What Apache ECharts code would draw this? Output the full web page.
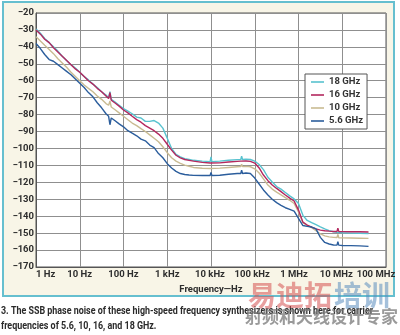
<!DOCTYPE html>
<html>
<head>
<meta charset="utf-8">
<script src="https://cdn.jsdelivr.net/npm/echarts@6/dist/echarts.min.js"></script>
<style>
  html, body { margin: 0; padding: 0; background: #ffffff; }
  #chart { width: 400px; height: 335px; }
</style>
</head>
<body>
<div id="chart"></div>
<script>
// Offset frequencies (Hz) shared by all four traces
const freqHz = [
  1, 1.26, 1.58, 2, 2.51, 3.16, 3.98, 5.01, 6.31, 7.94,
  10, 12.6, 15.8, 20, 25.1, 31.6, 39.8, 45.7, 49, 52.5,
  63.1, 79.4, 100, 126, 158, 200, 251, 316, 398, 501,
  631, 794, 1000, 1259, 1585, 1995, 2512, 3162, 3981, 6310,
  9550, 10000, 10470, 15850, 25120, 39810, 47860, 50120, 52480, 63100,
  79430, 1e5, 1.26e5, 1.58e5, 2e5, 2.51e5, 3.16e5, 3.98e5, 5.01e5, 6.31e5,
  7.94e5, 1e6, 1.26e6, 1.58e6, 2e6, 2.51e6, 3.16e6, 3.98e6, 5.01e6, 6.31e6,
  7.59e6, 7.94e6, 8.32e6, 1e7, 1.58e7, 2.51e7, 3.98e7
];

// SSB phase noise, dBc/Hz, per carrier frequency
const noise18GHz = [
  -29.5, -32, -35, -37.5, -40, -42.5, -45.5, -48, -50.5, -52.5,
  -55, -57.5, -59.5, -62, -64, -66.5, -68.5, -70, -66.5, -71,
  -72.5, -74.5, -76.5, -78, -79.5, -81.5, -82, -84, -84, -83.5,
  -85, -88, -94, -100, -103.5, -105, -106, -106.5, -107, -107.5,
  -107.8, -105, -107.8, -107.5, -107, -106.6, -106.5, -104.5, -106.5, -106.4,
  -106.5, -107.5, -109.5, -112.5, -117, -119.8, -122.5, -124, -126, -128,
  -129.8, -132.5, -139.5, -142.5, -143.8, -145, -146.3, -147.5, -148.5, -149.2,
  -149.5, -149.6, -149.6, -149.8, -150, -150.1, -150.2
];
const noise16GHz = [
  -30, -32.5, -35.5, -37.5, -40.5, -43, -45.5, -48, -50.5, -53,
  -55, -57.5, -60, -62, -64.5, -66.5, -69, -70.5, -67, -71.5,
  -73, -75, -77.3, -79, -81, -83, -84.5, -86.5, -88, -89.5,
  -91.5, -94, -97.5, -101, -104, -105.5, -106.5, -107, -107.5, -108.2,
  -108.6, -108.6, -108.6, -108.5, -108, -107.6, -107.5, -106.5, -107.5, -107.4,
  -107.6, -108.6, -111.5, -115.7, -119, -121.6, -123.6, -125.5, -127.5, -129.3,
  -131, -136.4, -143.5, -145.2, -146.5, -147.5, -148.2, -148.6, -148.8, -149,
  -149, -147, -149, -149.1, -149.2, -149.2, -149.3
];
const noise10GHz = [
  -34, -36.5, -39, -41.5, -44, -47, -49.5, -52, -55, -57.5,
  -60, -62.5, -64.5, -66.5, -69, -71, -73.5, -74.5, -72, -75.5,
  -77, -79, -81, -83, -85, -86.5, -88.3, -90, -92, -94,
  -96, -99, -102.5, -105.5, -107.5, -108.8, -109.8, -110.5, -111.2, -111.7,
  -111.8, -111.8, -111.8, -111.6, -111.2, -110.8, -110.7, -109.3, -110.7, -110.6,
  -110.8, -112, -114.5, -118, -121.6, -124, -125.8, -127.4, -129, -130.6,
  -132.5, -137.5, -143.8, -145.4, -146.8, -148.6, -150.5, -151.6, -152.2, -152.5,
  -152.6, -150.8, -152.7, -152.8, -152.9, -153, -153.1
];
const noise5p6GHz = [
  -38, -41, -44.5, -47.5, -48.5, -50.5, -52.5, -54.5, -56.5, -59,
  -61.5, -64, -67, -69.5, -73, -76, -79.5, -81, -86, -82,
  -83.5, -85.5, -87.2, -89.5, -91, -92.5, -94.5, -95.5, -98, -99.5,
  -103, -105.5, -109, -111.5, -113.5, -114.8, -115.4, -115.7, -115.9, -116,
  -116, -114.2, -116, -115.8, -115.2, -114.8, -114.8, -112.8, -114.8, -114.5,
  -114.8, -117.5, -121, -124.5, -127.5, -130, -132, -133.6, -135, -136,
  -137, -141.3, -145.5, -146, -146.4, -147.5, -152.5, -155.5, -156.4, -157,
  -157.1, -155, -157.1, -157.3, -157.4, -157.5, -157.8
];

// Axis tick labels, one per decade
const freqTickLabels = ['1 Hz', '10 Hz', '100 Hz', '1 kHz', '10 kHz', '100 kHz', '1 MHz', '10 MHz', '100 MHz'];
const seriesNames = ['18 GHz', '16 GHz', '10 GHz', '5.6 GHz'];

const captionLines = [
  '3. The SSB phase noise of these high-speed frequency synthesizers is shown here for carrier',
  'frequencies of 5.6, 10, 16, and 18 GHz.'
];

const FONT = 'Roboto, "DejaVu Sans Condensed", sans-serif';
const CJK = '"Noto Sans CJK SC", sans-serif';

const colors = {
  '18 GHz': '#58c2cf',
  '16 GHz': '#b3285e',
  '10 GHz': '#c9bb92',
  '5.6 GHz': '#2b5d9c'
};

// frequency axis runs in decades (log10 of Hz)
const pair = (vals) => freqHz.map((f, i) => [Math.log10(f), vals[i]]);

// caption is set in a condensed face: squeeze it to the frame width
const measureCtx = document.createElement('canvas').getContext('2d');
const captionFont = 'bold 10.5px ' + FONT;
measureCtx.font = captionFont;
const captionScale = Math.min(1, 372 / measureCtx.measureText(captionLines[0]).width);

// right-hand tick labels sit slightly left of their gridline
const labelShift = [0, 0, 0, 0, 2, 5, 9, 12, 20];
const richStyles = {};
labelShift.forEach((s, i) => {
  richStyles['t' + i] = {
    fontFamily: FONT, fontSize: 9.5, fontWeight: 'bold', color: '#2e2e2e',
    padding: [0, s, 0, 0]
  };
});

const chart = echarts.init(document.getElementById('chart'), null, { renderer: 'canvas' });

const mkSeries = (name, vals, z) => ({
  name: name,
  type: 'line',
  data: pair(vals),
  showSymbol: false,
  symbol: 'none',
  z: z,
  lineStyle: { color: colors[name], width: 1.4 },
  itemStyle: { color: colors[name] }
});

chart.setOption({
  animation: false,
  backgroundColor: '#ffffff',
  graphic: [
    {
      type: 'rect',
      z: -10,
      silent: true,
      shape: { x: 3, y: 2, width: 391, height: 294 },
      style: { fill: '#f8f5e7', stroke: '#66bfcf', lineWidth: 2 }
    },
    {
      type: 'text',
      z: 50,
      silent: true,
      x: 1,
      y: 304,
      scaleX: captionScale,
      style: {
        text: captionLines.join('\n'),
        font: captionFont,
        lineHeight: 15,
        fill: '#2a2a2a'
      }
    },
    {
      type: 'text',
      z: 100,
      silent: true,
      x: 248,
      y: 281,
      style: {
        text: '易迪拓',
        font: 'bold 28px ' + CJK,
        fill: 'rgba(214, 80, 80, 0.55)'
      }
    },
    {
      type: 'text',
      z: 100,
      silent: true,
      x: 334,
      y: 281,
      style: {
        text: '培训',
        font: 'bold 28px ' + CJK,
        fill: 'rgba(90, 140, 190, 0.55)'
      }
    },
    {
      type: 'text',
      z: 100,
      silent: true,
      x: 245,
      y: 308,
      style: {
        text: '射频和天线设计专家',
        font: 'bold 17px ' + CJK,
        fill: 'rgba(120, 120, 120, 0.75)'
      }
    }
  ],
  legend: {
    orient: 'vertical',
    left: 305,
    top: 74,
    data: seriesNames,
    backgroundColor: '#ffffff',
    borderColor: '#555555',
    borderWidth: 1,
    borderRadius: 0,
    padding: [3, 4, 3, 6],
    itemWidth: 13,
    itemHeight: 1.6,
    itemGap: 3,
    icon: 'rect',
    textStyle: {
      fontFamily: FONT,
      fontSize: 9.5,
      fontWeight: 'bold',
      color: '#333333',
      lineHeight: 10
    }
  },
  grid: {
    left: 36,
    right: 14,
    top: 13,
    bottom: 68,
    show: true,
    backgroundColor: '#ffffff',
    borderColor: '#555555',
    borderWidth: 1,
    containLabel: false,
    outerBoundsMode: 'none'
  },
  xAxis: {
    type: 'value',
    min: 0,
    max: 8,
    interval: 1,
    name: 'Frequency\u2014Hz',
    nameLocation: 'middle',
    nameGap: 12,
    nameTextStyle: {
      fontFamily: FONT,
      fontSize: 9.5,
      fontWeight: 'bold',
      color: '#2e2e2e'
    },
    axisLine: { show: true, lineStyle: { color: '#555555', width: 1 } },
    axisTick: { show: false },
    splitLine: { show: true, lineStyle: { color: '#8f8f8f', width: 1 } },
    axisLabel: {
      margin: 3,
      hideOverlap: false,
      showMinLabel: true,
      showMaxLabel: true,
      alignMinLabel: 'left',
      rich: richStyles,
      formatter: (v) => {
        const i = Math.round(v);
        return '{t' + i + '|' + freqTickLabels[i] + '}';
      }
    }
  },
  yAxis: {
    type: 'value',
    min: -170,
    max: -20,
    interval: 10,
    name: 'dBc/Hz',
    nameLocation: 'middle',
    nameGap: 22,
    nameTextStyle: {
      fontFamily: FONT,
      fontSize: 9.5,
      fontWeight: 'bold',
      color: '#2e2e2e'
    },
    axisLine: { show: true, lineStyle: { color: '#555555', width: 1 } },
    axisTick: { show: false },
    splitLine: { show: true, lineStyle: { color: '#8f8f8f', width: 1 } },
    axisLabel: {
      margin: 2,
      fontFamily: FONT,
      fontSize: 9.5,
      fontWeight: 'bold',
      color: '#2e2e2e',
      formatter: (v) => (v < 0 ? '\u2212' : '') + Math.abs(v)
    }
  },
  series: [
    mkSeries('18 GHz', noise18GHz, 2),
    mkSeries('10 GHz', noise10GHz, 3),
    mkSeries('16 GHz', noise16GHz, 4),
    mkSeries('5.6 GHz', noise5p6GHz, 5)
  ]
});
</script>
</body>
</html>
